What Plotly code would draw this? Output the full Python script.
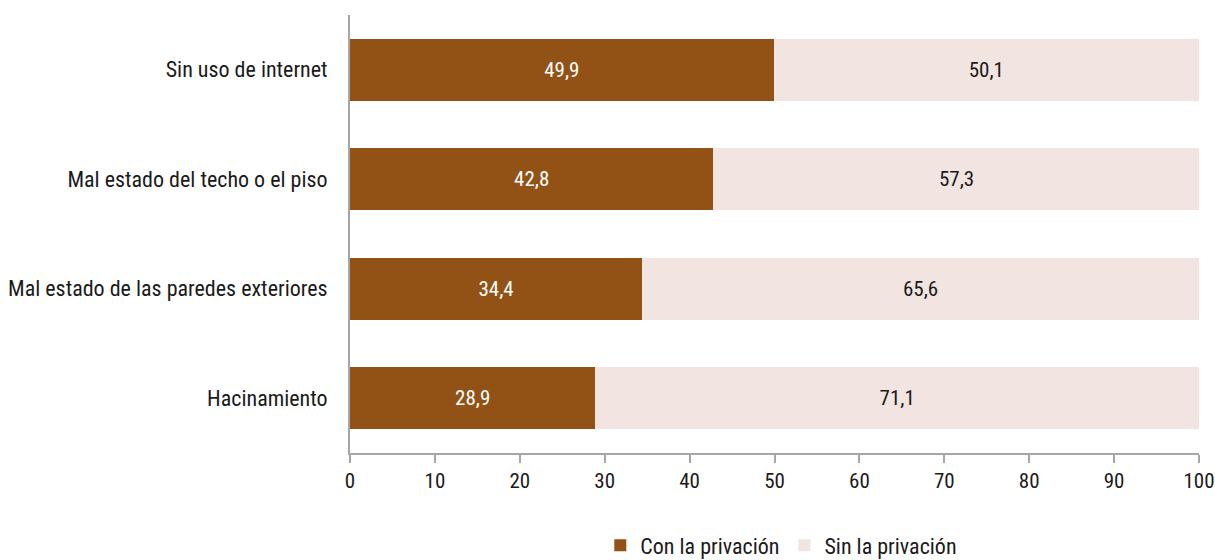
import plotly.graph_objects as go

categories = ["Hacinamiento", "Mal estado de las paredes exteriores",
              "Mal estado del techo o el piso", "Sin uso de internet"]
con_privacion = [28.9, 34.4, 42.8, 49.9]
sin_privacion = [71.1, 65.6, 57.3, 50.1]
x_ticks = [0, 10, 20, 30, 40, 50, 60, 70, 80, 90, 100]

FONT = "Roboto Condensed, Liberation Sans Narrow, sans-serif"
fmt = lambda v: f"{v:.1f}".replace(".", ",")

fig = go.Figure()
fig.add_trace(go.Bar(
    y=categories, x=con_privacion, orientation="h", name="Con la privación",
    marker=dict(color="#925216", line=dict(width=0)),
    text=[fmt(v) for v in con_privacion], textposition="inside",
    insidetextanchor="middle", textfont=dict(color="white", size=21, family=FONT),
))
fig.add_trace(go.Bar(
    y=categories, x=sin_privacion, orientation="h", name="Sin la privación",
    marker=dict(color="#F2E4E1", line=dict(width=0)),
    text=[fmt(v) for v in sin_privacion], textposition="inside",
    insidetextanchor="middle", textfont=dict(color="#1a1a1a", size=21, family=FONT),
))

fig.update_layout(
    barmode="stack", bargap=0.43,
    width=1215, height=560,
    margin=dict(l=350, r=16, t=15, b=107, autoexpand=False),
    plot_bgcolor="white", paper_bgcolor="white",
    font=dict(family=FONT, size=22, color="#1a1a1a"),
    showlegend=True,
    legend=dict(orientation="h", x=0.508, xanchor="center", y=-0.163, yanchor="top",
                font=dict(size=22), traceorder="normal", itemwidth=30),
    uniformtext=dict(mode="show", minsize=10),
)
fig.update_xaxes(range=[0, 100], tickvals=x_ticks, ticktext=[str(t) for t in x_ticks],
                 showgrid=False, zeroline=False, showline=True, linecolor="#A6A6A6",
                 linewidth=2, ticks="outside", ticklen=8, tickcolor="#A6A6A6", tickwidth=2,
                 tickfont=dict(size=21), automargin=False, ticklabeloverflow="allow")
fig.update_yaxes(showgrid=False, zeroline=False, showline=True, linecolor="#A6A6A6",
                 linewidth=2, ticks="", ticklabelstandoff=16, tickfont=dict(size=22),
                 automargin=False)

fig.write_html("out.html", config={"displayModeBar": False},
               post_script="document.body.style.margin='0';document.body.style.overflow='hidden';")
